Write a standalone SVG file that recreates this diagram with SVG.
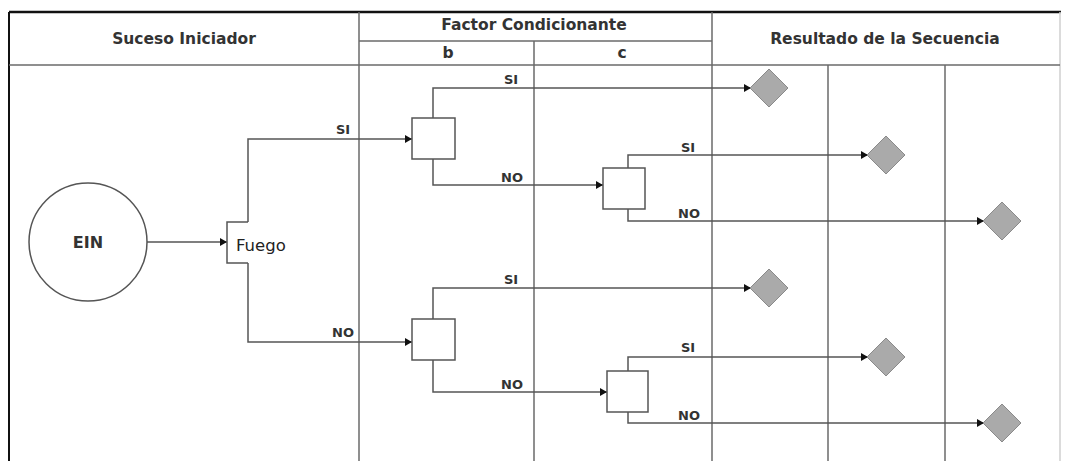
<svg xmlns="http://www.w3.org/2000/svg" width="1065" height="461" viewBox="0 0 1065 461">
<defs>
<marker id="arr" markerWidth="8" markerHeight="8" refX="7" refY="4" orient="auto" markerUnits="userSpaceOnUse">
<path d="M0,0 L7,4 L0,8 Z" fill="#111"/>
</marker>
<style>
.grid{stroke:#6a6a6a;stroke-width:1.5;fill:none}
.hdr{font-family:"DejaVu Sans",Verdana,sans-serif;font-weight:bold;font-size:15.5px;fill:#333;text-anchor:middle}
.lbl{font-family:"DejaVu Sans",Verdana,sans-serif;font-weight:bold;font-size:13px;fill:#333;text-anchor:middle}
.conn{stroke:#555;stroke-width:1.5;fill:none}
.box{stroke:#555;stroke-width:1.5;fill:#fff}
.dia{fill:#aaaaaa;stroke:#8a8a8a;stroke-width:1}
</style>
</defs>
<rect width="1065" height="461" fill="#fff"/>
<g id="grid">
<line x1="9" y1="12" x2="9" y2="461" stroke="#111" stroke-width="2"/>
<line x1="9" y1="12" x2="1061" y2="12" stroke="#111" stroke-width="2.5"/>
<line x1="1060" y1="12" x2="1060" y2="461" stroke="#cfcfcf" stroke-width="1.5"/>
<line class="grid" x1="9" y1="65" x2="1060" y2="65"/>
<line class="grid" x1="359" y1="41" x2="712" y2="41"/>
<line class="grid" x1="359" y1="12" x2="359" y2="461"/>
<line class="grid" x1="534" y1="41" x2="534" y2="461"/>
<line class="grid" x1="712" y1="12" x2="712" y2="461"/>
<line class="grid" x1="828" y1="65" x2="828" y2="461"/>
<line class="grid" x1="945" y1="65" x2="945" y2="461"/>
<text class="hdr" x="184" y="44">Suceso Iniciador</text>
<text class="hdr" x="534" y="30">Factor Condicionante</text>
<text class="hdr" x="448" y="58">b</text>
<text class="hdr" x="622" y="58">c</text>
<text class="hdr" x="885" y="44">Resultado de la Secuencia</text>
</g>
<g id="connectors">
<line class="conn" x1="147" y1="242" x2="227" y2="242" marker-end="url(#arr)"/>
<path class="conn" d="M248,222 V139 H412" marker-end="url(#arr)"/>
<path class="conn" d="M248,263 V342 H412" marker-end="url(#arr)"/>
<path class="conn" d="M433,118 V88 H751" marker-end="url(#arr)"/>
<path class="conn" d="M433,159 V185 H603" marker-end="url(#arr)"/>
<path class="conn" d="M628,168 V155 H868" marker-end="url(#arr)"/>
<path class="conn" d="M628,209 V221 H984" marker-end="url(#arr)"/>
<path class="conn" d="M433,319 V288 H751" marker-end="url(#arr)"/>
<path class="conn" d="M433,360 V392 H607" marker-end="url(#arr)"/>
<path class="conn" d="M628,371 V357 H868" marker-end="url(#arr)"/>
<path class="conn" d="M628,412 V423 H984" marker-end="url(#arr)"/>
<text class="lbl" x="343" y="134">SI</text>
<text class="lbl" x="343" y="337">NO</text>
<text class="lbl" x="511" y="84">SI</text>
<text class="lbl" x="512" y="182">NO</text>
<text class="lbl" x="688" y="152">SI</text>
<text class="lbl" x="689" y="218">NO</text>
<text class="lbl" x="511" y="284">SI</text>
<text class="lbl" x="512" y="389">NO</text>
<text class="lbl" x="688" y="352">SI</text>
<text class="lbl" x="689" y="420">NO</text>
</g>
<g id="ein">
<circle cx="88" cy="242" r="59" fill="#fff" stroke="#555" stroke-width="1.5"/>
<text class="hdr" x="88" y="248" style="font-size:16px">EIN</text>
</g>
<g id="fuego">
<path class="conn" d="M248,222 H227 V263 H248"/>
<text x="236" y="251" font-family="DejaVu Sans,sans-serif" font-size="16.5" fill="#222">Fuego</text>
</g>
<g id="b1"><rect class="box" x="412" y="118" width="43" height="41"/></g>
<g id="c1"><rect class="box" x="603" y="168" width="42" height="41"/></g>
<g id="b2"><rect class="box" x="412" y="319" width="43" height="41"/></g>
<g id="c2"><rect class="box" x="607" y="371" width="41" height="41"/></g>
<g id="r1"><path class="dia" d="M769,69 L788,88 L769,107 L750,88 Z"/></g>
<g id="r2"><path class="dia" d="M886,136 L905,155 L886,174 L867,155 Z"/></g>
<g id="r3"><path class="dia" d="M1002,202 L1021,221 L1002,240 L983,221 Z"/></g>
<g id="r4"><path class="dia" d="M769,269 L788,288 L769,307 L750,288 Z"/></g>
<g id="r5"><path class="dia" d="M886,338 L905,357 L886,376 L867,357 Z"/></g>
<g id="r6"><path class="dia" d="M1002,404 L1021,423 L1002,442 L983,423 Z"/></g>
</svg>
